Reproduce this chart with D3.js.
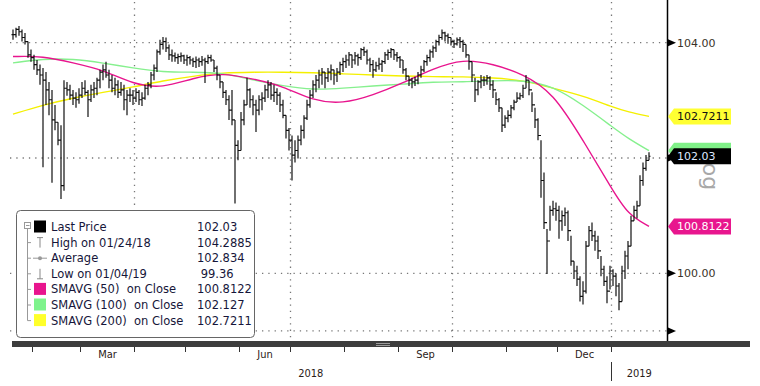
<!DOCTYPE html>
<html>
<head>
<meta charset="utf-8">
<script src="https://cdn.jsdelivr.net/npm/d3@7"></script>
<style>
  body { margin: 0; background: #fff; }
  svg { display: block; }
  text { white-space: pre; }
</style>
</head>
<body>
<script>
// Daily bars, one entry per session (Jan 2018 - Jan 2019)
const highs = [
  104.23, 104.26, 104.29, 104.23, 104.17, 104.02, 103.88, 103.79, 103.70, 103.62,
  103.56, 103.49, 103.32, 103.18, 102.92, 102.62, 102.57, 103.35, 103.32, 103.27,
  103.18, 103.14, 103.21, 103.32, 103.35, 103.18, 103.27, 103.32, 103.39, 103.53,
  103.62, 103.67, 103.53, 103.44, 103.39, 103.35, 103.32, 103.27, 103.18, 103.21,
  103.18, 103.21, 103.18, 103.14, 103.27, 103.32, 103.49, 103.62, 103.88, 104.05,
  104.10, 104.09, 103.97, 103.88, 103.83, 103.81, 103.83, 103.79, 103.79, 103.77,
  103.74, 103.76, 103.74, 103.77, 103.74, 103.79, 103.79, 103.70, 103.60, 103.44,
  103.32, 103.18, 103.09, 103.18, 102.66, 102.31, 102.80, 103.01, 103.39, 103.21,
  103.09, 103.01, 103.09, 103.14, 103.27, 103.35, 103.32, 103.27, 103.21, 103.14,
  103.01, 102.74, 102.52, 102.39, 102.31, 102.39, 102.57, 102.74, 103.01, 103.18,
  103.35, 103.44, 103.53, 103.56, 103.49, 103.56, 103.62, 103.53, 103.56, 103.67,
  103.74, 103.79, 103.84, 103.79, 103.84, 103.81, 103.91, 103.93, 103.88, 103.74,
  103.70, 103.67, 103.74, 103.70, 103.84, 103.88, 103.91, 103.88, 103.84, 103.77,
  103.70, 103.56, 103.42, 103.39, 103.41, 103.49, 103.60, 103.70, 103.79, 103.88,
  103.95, 104.05, 104.14, 104.23, 104.19, 104.16, 104.09, 104.05, 104.09, 104.10,
  104.05, 103.97, 103.79, 103.67, 103.39, 103.35, 103.44, 103.42, 103.44, 103.42,
  103.35, 103.14, 103.04, 102.87, 102.74, 102.83, 102.92, 103.01, 103.14, 103.13,
  103.27, 103.44, 103.35, 103.14, 102.87, 102.69, 102.31, 101.75, 100.77, 101.17,
  101.26, 101.23, 101.17, 101.09, 101.14, 101.09, 100.65, 100.21, 100.13, 99.95,
  99.86, 100.56, 100.82, 100.88, 100.74, 100.65, 100.30, 100.13, 99.95, 100.13,
  100.07, 100.00, 99.83, 100.13, 100.39, 100.56, 101.00, 101.17, 101.26, 101.70,
  101.92, 102.05, 102.10
];
const lows = [
  104.05, 104.09, 104.12, 104.02, 103.97, 103.74, 103.67, 103.53, 103.44, 103.27,
  101.84, 102.92, 102.74, 101.57, 102.48, 102.22, 101.29, 101.43, 103.08, 103.01,
  102.92, 102.87, 102.94, 103.04, 103.09, 102.71, 102.97, 103.04, 103.09, 103.21,
  103.35, 103.39, 103.21, 103.14, 103.09, 103.04, 103.08, 102.83, 102.74, 102.97,
  102.92, 102.97, 102.92, 102.90, 103.01, 103.09, 103.21, 103.35, 103.49, 103.79,
  103.88, 103.84, 103.70, 103.67, 103.67, 103.63, 103.67, 103.63, 103.60, 103.62,
  103.58, 103.56, 103.58, 103.60, 103.30, 103.63, 103.67, 103.49, 103.35, 103.21,
  103.04, 102.92, 102.66, 102.57, 101.21, 101.96, 102.13, 102.57, 102.92, 102.87,
  102.74, 102.45, 102.74, 102.83, 102.97, 103.04, 103.01, 102.97, 102.92, 102.80,
  102.69, 102.34, 102.13, 101.61, 101.92, 101.99, 102.22, 102.34, 102.66, 102.87,
  103.04, 103.14, 103.21, 103.27, 103.21, 103.32, 103.35, 103.27, 103.32, 103.44,
  103.49, 103.56, 103.60, 103.56, 103.62, 103.60, 103.70, 103.77, 103.62, 103.49,
  103.39, 103.49, 103.53, 103.49, 103.63, 103.70, 103.74, 103.70, 103.67, 103.56,
  103.46, 103.35, 103.25, 103.21, 103.25, 103.28, 103.39, 103.49, 103.60, 103.67,
  103.74, 103.84, 103.95, 104.05, 104.02, 103.98, 103.95, 103.91, 103.95, 103.91,
  103.84, 103.74, 103.53, 103.32, 102.97, 103.09, 103.21, 103.25, 103.27, 103.18,
  103.04, 102.92, 102.80, 102.45, 102.52, 102.62, 102.69, 102.83, 102.97, 103.01,
  103.04, 103.21, 103.09, 102.80, 102.52, 102.31, 101.31, 100.77, 99.99, 100.74,
  101.00, 100.91, 100.60, 100.74, 100.82, 100.56, 100.13, 99.90, 99.78, 99.51,
  99.46, 99.65, 100.47, 100.56, 100.39, 100.25, 99.95, 99.78, 99.48, 99.72,
  99.78, 99.60, 99.36, 99.51, 99.90, 100.07, 100.47, 100.91, 100.95, 101.17,
  101.52, 101.78, 101.96
];
const closes = [
  104.14, 104.23, 104.19, 104.09, 104.02, 103.79, 103.74, 103.62, 103.53, 103.44,
  103.35, 103.18, 103.01, 102.66, 102.62, 102.31, 101.52, 103.21, 103.18, 103.09,
  103.04, 103.01, 103.09, 103.21, 103.14, 103.01, 103.18, 103.21, 103.35, 103.49,
  103.53, 103.44, 103.35, 103.21, 103.27, 103.14, 103.18, 103.01, 103.09, 103.09,
  103.04, 103.14, 103.01, 103.04, 103.21, 103.27, 103.44, 103.56, 103.84, 103.97,
  104.02, 103.91, 103.79, 103.77, 103.74, 103.76, 103.77, 103.70, 103.74, 103.70,
  103.67, 103.70, 103.67, 103.70, 103.67, 103.74, 103.70, 103.56, 103.44, 103.32,
  103.14, 103.01, 102.83, 102.66, 102.22, 102.13, 102.66, 102.92, 103.18, 103.01,
  102.92, 102.83, 103.01, 103.04, 103.18, 103.27, 103.09, 103.14, 103.09, 102.92,
  102.74, 102.48, 102.31, 102.05, 102.13, 102.31, 102.48, 102.69, 102.92, 103.09,
  103.27, 103.35, 103.44, 103.49, 103.39, 103.49, 103.53, 103.44, 103.49, 103.62,
  103.67, 103.70, 103.79, 103.70, 103.77, 103.74, 103.88, 103.84, 103.70, 103.62,
  103.53, 103.60, 103.63, 103.67, 103.79, 103.83, 103.88, 103.79, 103.74, 103.70,
  103.53, 103.42, 103.35, 103.32, 103.35, 103.44, 103.53, 103.67, 103.74, 103.84,
  103.91, 104.02, 104.09, 104.17, 104.12, 104.09, 104.02, 103.98, 104.05, 104.02,
  103.97, 103.79, 103.67, 103.44, 103.18, 103.32, 103.35, 103.35, 103.39, 103.27,
  103.18, 103.01, 102.87, 102.57, 102.69, 102.74, 102.87, 102.97, 103.04, 103.08,
  103.21, 103.35, 103.18, 102.92, 102.66, 102.39, 101.61, 100.88, 100.56, 101.09,
  101.12, 101.09, 100.91, 101.00, 101.05, 100.74, 100.21, 100.04, 99.90, 99.60,
  99.69, 100.47, 100.74, 100.65, 100.56, 100.39, 100.07, 99.86, 99.69, 100.04,
  99.95, 99.78, 99.51, 100.04, 100.30, 100.47, 100.91, 101.09, 101.17, 101.61,
  101.82, 101.96, 102.03
];

// Moving averages, read at these sessions
const maSessions = [0, 10, 20, 30, 40, 50, 60, 70, 80, 90, 100, 110, 120, 130, 140, 150, 160, 170, 180, 190, 200, 205, 212];
const sma50 = [103.76, 103.77, 103.65, 103.53, 103.28, 103.21, 103.39, 103.48, 103.37, 103.25, 102.99, 102.94, 103.09, 103.30, 103.55, 103.72, 103.63, 103.46, 103.14, 102.31, 101.43, 101.02, 100.8122];
const sma100 = [103.65, 103.72, 103.72, 103.65, 103.56, 103.49, 103.49, 103.48, 103.35, 103.25, 103.18, 103.21, 103.25, 103.28, 103.32, 103.32, 103.34, 103.35, 103.25, 102.92, 102.53, 102.34, 102.127];
const sma200 = [102.76, 102.92, 103.04, 103.14, 103.23, 103.34, 103.42, 103.48, 103.49, 103.49, 103.48, 103.46, 103.44, 103.42, 103.41, 103.41, 103.39, 103.35, 103.21, 103.08, 102.88, 102.80, 102.7211];

// First session of each month
const monthNames = ["Feb", "Mar", "Apr", "May", "Jun", "Jul", "Aug", "Sep", "Oct", "Nov", "Dec", "Jan"];
const monthStarts = [7, 23, 41, 58, 76, 93, 111, 129, 147, 165, 182, 200];
const labelledMonths = ["Mar", "Jun", "Sep", "Dec"];
const quarterMonths = ["Apr", "Jul", "Oct", "Jan"];
const yearNames = ["2018", "2019"];
const yearStarts = [-1, 200];

const yTicks = [104, 102, 100, 99];
const yLabelTicks = [104, 100];

const legendNames = [
  "Last Price", "High on 01/24/18", "Average", "Low on 01/04/19",
  "SMAVG (50)  on Close", "SMAVG (100)  on Close", "SMAVG (200)  on Close"
];
const legendValues = ["102.03", "104.2885", "102.834", " 99.36", "100.8122", "102.127", "102.7211"];

const font = "'DejaVu Sans', Verdana, sans-serif";
const magenta = "#e8158e", green = "#86f08e", yellow = "#f4f000";

const svg = d3.select("body").append("svg").attr("width", 760).attr("height", 386);

const x = d3.scaleLinear().domain([-1, 218]).range([10, 667]);
const y = d3.scaleLinear().domain([100, 104]).range([273.3, 42.7]);
const sessionEnd = 218;

// Dotted grid
svg.append("g")
  .selectAll("line")
  .data(yTicks)
  .join("line")
  .attr("x1", x(-1))
  .attr("x2", x(sessionEnd))
  .attr("y1", (d) => y(d))
  .attr("y2", (d) => y(d))
  .attr("stroke", "#777")
  .attr("stroke-width", 1.3)
  .attr("stroke-dasharray", "1.3,5");

svg.append("g")
  .selectAll("line")
  .data(monthStarts.filter((s, i) => quarterMonths.includes(monthNames[i])))
  .join("line")
  .attr("x1", (d) => x(d - 0.5))
  .attr("x2", (d) => x(d - 0.5))
  .attr("y1", 2)
  .attr("y2", 339)
  .attr("stroke", "#777")
  .attr("stroke-width", 1.3)
  .attr("stroke-dasharray", "1.3,5");

// Moving averages
const maLine = (values) =>
  d3.line()
    .x((d, i) => x(maSessions[i]))
    .y((d) => y(d))
    .curve(d3.curveBasis)(values);

[[sma200, yellow], [sma100, green], [sma50, magenta]].forEach(([values, color]) => {
  svg.append("path")
    .attr("d", maLine(values))
    .attr("fill", "none")
    .attr("stroke", color)
    .attr("stroke-width", 1.4);
});

// Price bars: open tick left (previous close), high-low bar, close tick right
const bars = closes.map((c, i) => ({
  i,
  high: highs[i],
  low: lows[i],
  close: c,
  open: i ? closes[i - 1] : c
}));

svg.append("path")
  .attr("d", bars.map((d) => {
    const bx = x(d.i);
    return `M${bx - 1.5},${y(d.open)}H${bx}M${bx},${y(d.high)}V${y(d.low)}M${bx},${y(d.close)}H${bx + 1.5}`;
  }).join(""))
  .attr("fill", "none")
  .attr("stroke", "#111")
  .attr("stroke-width", 1.2);

// Legend
const legend = svg.append("g");
const rowY = (i) => 227 + i * 15.6;

legend.append("rect")
  .attr("x", 16.5)
  .attr("y", 210.5)
  .attr("width", 238)
  .attr("height", 127)
  .attr("rx", 4)
  .attr("fill", "#fff")
  .attr("stroke", "#666");

legend.append("line")
  .attr("x1", 27.5).attr("x2", 27.5)
  .attr("y1", rowY(0)).attr("y2", rowY(6))
  .attr("stroke", "#999");

legendNames.forEach((name, i) => {
  if (i > 0) {
    legend.append("line")
      .attr("x1", 27.5).attr("x2", 31)
      .attr("y1", rowY(i)).attr("y2", rowY(i))
      .attr("stroke", "#999");
  }
});

legend.append("rect")
  .attr("x", 24.5).attr("y", rowY(0) - 4.5)
  .attr("width", 6).attr("height", 6)
  .attr("fill", "#fff").attr("stroke", "#999");
legend.append("line")
  .attr("x1", 26).attr("x2", 29.5)
  .attr("y1", rowY(0) - 1.5).attr("y2", rowY(0) - 1.5)
  .attr("stroke", "#999");

const squareColors = ["#000", null, null, null, magenta, "#7ef38c", "#ffff2a"];
squareColors.forEach((c, i) => {
  if (!c) return;
  legend.append("rect")
    .attr("x", 34).attr("y", rowY(i) - 6.5)
    .attr("width", 12).attr("height", 12)
    .attr("fill", c);
});

// High, average and low glyphs
legend.append("path")
  .attr("d", `M37,${rowY(1) - 5}H43M40,${rowY(1) - 5}V${rowY(1) + 5}`)
  .attr("stroke", "#888").attr("fill", "none");
legend.append("path")
  .attr("d", `M33,${rowY(2)}H47`)
  .attr("stroke", "#999").attr("fill", "none");
legend.append("circle")
  .attr("cx", 40).attr("cy", rowY(2)).attr("r", 2)
  .attr("fill", "#999");
legend.append("path")
  .attr("d", `M40,${rowY(3) - 5}V${rowY(3) + 5}M37,${rowY(3) + 5}H43`)
  .attr("stroke", "#888").attr("fill", "none");

legend.selectAll("text.name")
  .data(legendNames)
  .join("text")
  .attr("class", "name")
  .attr("x", 51)
  .attr("y", (d, i) => rowY(i) + 4)
  .attr("font-family", font)
  .attr("font-size", 11.5)
  .attr("fill", "#16163a")
  .text((d) => d);

legend.selectAll("text.value")
  .data(legendValues)
  .join("text")
  .attr("class", "value")
  .attr("x", 197)
  .attr("y", (d, i) => rowY(i) + 4)
  .attr("font-family", font)
  .attr("font-size", 11.5)
  .attr("fill", "#16163a")
  .text((d) => d);

// Right axis
svg.append("line")
  .attr("x1", 667.5).attr("x2", 667.5)
  .attr("y1", 0).attr("y2", 341)
  .attr("stroke", "#000")
  .attr("stroke-width", 1.5);

svg.append("g")
  .selectAll("path")
  .data(yTicks)
  .join("path")
  .attr("d", (d) => `M668,${y(d) - 3.5}L676,${y(d)}L668,${y(d) + 3.5}Z`)
  .attr("fill", "#000");

svg.append("g")
  .selectAll("text")
  .data(yLabelTicks)
  .join("text")
  .attr("x", 677)
  .attr("y", (d) => y(d))
  .attr("dy", "0.36em")
  .attr("font-family", font)
  .attr("font-size", 11)
  .attr("fill", "#3a3228")
  .text((d) => d3.format(".2f")(d));

svg.append("text")
  .attr("transform", "translate(703,151) rotate(90)")
  .attr("font-family", font)
  .attr("font-size", 22)
  .attr("fill", "#a8a8a8")
  .text("Log");

// Last value tags (the SMA 100 tag sits under the last price tag)
const tags = [
  { value: sma200[sma200.length - 1], text: legendValues[6], fill: "#ffff33", color: "#111" },
  { value: sma50[sma50.length - 1], text: legendValues[4], fill: "#e8168e", color: "#fff" },
  { value: sma100[sma100.length - 1], text: null, fill: "#80f088", color: "#111" },
  { value: closes[closes.length - 1], text: legendValues[0], fill: "#000", color: "#dfe8ff" }
];

tags.forEach((t) => {
  const ty = y(t.value);
  svg.append("path")
    .attr("d", `M668,${ty}L674,${ty - 8}H731V${ty + 8}H674Z`)
    .attr("fill", t.fill);
  if (!t.text) return;
  svg.append("text")
    .attr("x", 677)
    .attr("y", ty)
    .attr("dy", "0.36em")
    .attr("font-family", font)
    .attr("font-size", 11)
    .attr("fill", t.color)
    .text(t.text);
});

// Bottom time axis
svg.append("rect")
  .attr("x", 12).attr("y", 341)
  .attr("width", 738).attr("height", 6)
  .attr("fill", "#3d3d3d");
svg.append("path")
  .attr("d", "M376,343.5H390M376,345.5H390")
  .attr("stroke", "#9a9a9a");

svg.append("g")
  .selectAll("line")
  .data(monthStarts)
  .join("line")
  .attr("x1", (d) => x(d - 0.5))
  .attr("x2", (d) => x(d - 0.5))
  .attr("y1", 347)
  .attr("y2", 352)
  .attr("stroke", "#333");

svg.append("g")
  .selectAll("text")
  .data(monthNames.map((m, i) => ({ m, i })).filter((d) => labelledMonths.includes(d.m)))
  .join("text")
  .attr("x", (d) => x((monthStarts[d.i] + monthStarts[d.i + 1]) / 2 - 0.5))
  .attr("y", 358)
  .attr("text-anchor", "middle")
  .attr("font-family", "'DejaVu Sans Condensed', 'DejaVu Sans', sans-serif")
  .attr("font-stretch", "condensed")
  .attr("font-size", 11)
  .attr("fill", "#2b2118")
  .text((d) => d.m);

svg.append("g")
  .selectAll("text")
  .data(yearNames)
  .join("text")
  .attr("x", (d, i) => {
    const from = i ? yearStarts[i] - 0.5 : yearStarts[i];
    const to = i + 1 < yearStarts.length ? yearStarts[i + 1] - 0.5 : sessionEnd;
    return (x(from) + x(to)) / 2;
  })
  .attr("y", 377)
  .attr("text-anchor", "middle")
  .attr("font-family", "'DejaVu Sans Condensed', 'DejaVu Sans', sans-serif")
  .attr("font-stretch", "condensed")
  .attr("font-size", 11)
  .attr("fill", "#2b2118")
  .text((d) => d);

svg.append("line")
  .attr("x1", x(yearStarts[1] - 0.5)).attr("x2", x(yearStarts[1] - 0.5))
  .attr("y1", 362).attr("y2", 381)
  .attr("stroke", "#333");
</script>
</body>
</html>
